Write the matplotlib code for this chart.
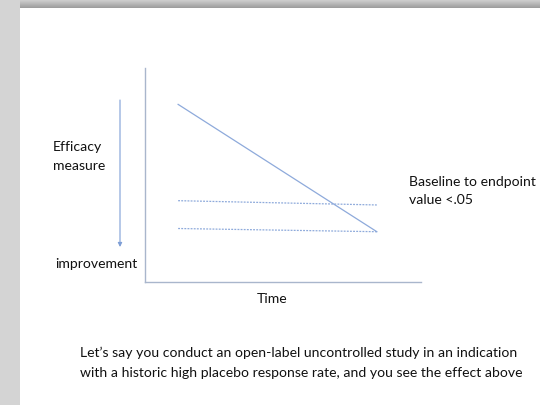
import numpy as np
import matplotlib.pyplot as plt

plt.rcParams["font.family"] = ["Lato", "DejaVu Sans"]

# Data (arbitrary units: time 0..10, efficacy score 0..10)
time = [1.2, 8.4]
treated = [8.3, 2.35]
upper_ref = [3.8, 3.6]
lower_ref = [2.5, 2.35]

W, H = 540, 405
fig = plt.figure(figsize=(W / 100, H / 100), dpi=100)
fig.patch.set_facecolor("white")

# slide background in pixel coordinates
bg = fig.add_axes([0, 0, 1, 1])
bg.set_xlim(0, W)
bg.set_ylim(H, 0)
bg.axis("off")
bg.add_patch(plt.Rectangle((0, 0), 20, H, color="#d4d4d4", lw=0))
grad = np.linspace(0.80, 0.62, 8).reshape(-1, 1)
bg.imshow(np.repeat(grad, 2, axis=1), cmap="gray", vmin=0, vmax=1,
          extent=(20, W, 8, 0), aspect="auto")
bg.add_patch(plt.Rectangle((0, 0), 20, 8, color="#d4d4d4", lw=0))

# arrow on the left
bg.annotate("", xy=(120, 247), xytext=(120, 100),
            arrowprops=dict(arrowstyle="-|>", color="#7f9fd6", lw=0.8,
                            mutation_scale=6, shrinkA=0, shrinkB=0))

fs = 10.1
txt = dict(fontsize=fs, color="#111111", va="center")
bg.text(53, 147, "Efficacy", **txt)
bg.text(53, 166, "measure", **txt)
bg.text(55, 264, "improvement", **txt)
bg.text(272, 299, "Time", ha="center", fontsize=fs, color="#111111", va="center")
bg.text(409, 182, "Baseline to endpoint p", clip_on=True, **txt)
bg.text(409, 200, "value <.05", **txt)
bg.text(80, 353, "Let\u2019s say you conduct an open-label uncontrolled study in an indication", **txt)
bg.text(80, 373, "with a historic high placebo response rate, and you see the effect above", **txt)

# chart
ax = fig.add_axes([145 / W, (H - 282) / H, (421 - 145) / W, (282 - 68) / H])
ax.patch.set_alpha(0)
ax.set_xlim(0, 10)
ax.set_ylim(0, 10)
ax.set_xticks([])
ax.set_yticks([])
for s in ["top", "right"]:
    ax.spines[s].set_visible(False)
for s in ["left", "bottom"]:
    ax.spines[s].set_color("#a9b6cc")
    ax.spines[s].set_linewidth(1.0)

lc = "#8eaadb"
ax.plot(time, treated, color=lc, lw=0.9)
ax.plot(time, upper_ref, color=lc, lw=0.9, ls=(0, (1.5, 1)))
ax.plot(time, lower_ref, color=lc, lw=0.9, ls=(0, (1.5, 1)))

fig.savefig("out.png", dpi=100)
